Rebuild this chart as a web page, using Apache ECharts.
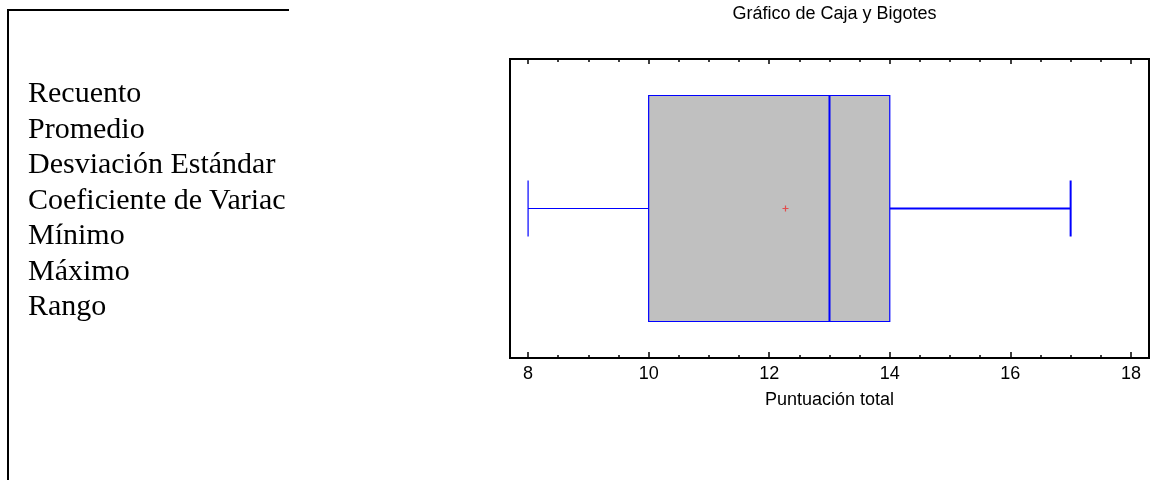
<!DOCTYPE html>
<html>
<head>
<meta charset="utf-8">
<script src="https://cdn.jsdelivr.net/npm/echarts@6/dist/echarts.min.js"></script>
<style>
  html, body { margin: 0; padding: 0; background: #fff; }
  #chart { position: absolute; left: 0; top: 0; width: 1164px; height: 480px; }
  .stat-frame {
    position: absolute; left: 7px; top: 9px; width: 280px; height: 480px;
    border-top: 2px solid #000; border-left: 2px solid #000;
  }
  .stat-labels {
    position: absolute; left: 28px; top: 74px; width: 258px;
    overflow: hidden; white-space: nowrap;
    font-family: "Liberation Serif", "Times New Roman", serif;
    font-size: 30px; line-height: 35.5px; color: #000;
  }
</style>
</head>
<body>
<div id="chart"></div>
<div class="stat-frame"></div>
<div class="stat-labels" id="labels"></div>
<script>
// resumen estadístico (sólo etiquetas visibles)
const statNames = ['Recuento', 'Promedio', 'Desviación Estándar', 'Coeficiente de Variación', 'Mínimo', 'Máximo', 'Rango']

// caja y bigotes: mínimo, Q1, mediana, Q3, máximo
const boxValues = [8, 10, 13, 14, 17]
const meanValue = 12.27

// marcas del eje
const majorTicks = [8, 10, 12, 14, 16, 18]
const minorTicks = [8.5, 9, 9.5, 10.5, 11, 11.5, 12.5, 13, 13.5, 14.5, 15, 15.5, 16.5, 17, 17.5]
const axisMin = 7.7
const axisMax = 18.3

document.getElementById('labels').innerHTML = statNames.map(s => `<div>${s}</div>`).join('')

const chart = echarts.init(document.getElementById('chart'))

const baseAxis = (position, ticks, len, showLabel) => ({
  type: 'value',
  position,
  min: axisMin,
  max: axisMax,
  axisLine: { show: false },
  splitLine: { show: false },
  axisTick: {
    show: true,
    inside: true,
    length: len,
    customValues: ticks,
    lineStyle: { color: '#000', width: 1.5 }
  },
  axisLabel: showLabel
    ? { show: true, customValues: ticks, color: '#000', fontSize: 18, margin: 7, fontFamily: 'Liberation Sans, Arial' }
    : { show: false }
})

const bottomAxis = baseAxis('bottom', majorTicks, 6, true)
bottomAxis.name = 'Puntuación total'
bottomAxis.nameLocation = 'middle'
bottomAxis.nameGap = 33
bottomAxis.nameTextStyle = { color: '#000', fontSize: 18, fontFamily: 'Liberation Sans, Arial' }

const option = {
  animation: false,
  title: {
    text: 'Gráfico de Caja y Bigotes',
    left: 829.5,
    textAlign: 'center',
    top: 0,
    textStyle: { color: '#000', fontSize: 18, fontWeight: 'normal', fontFamily: 'Liberation Sans, Arial' }
  },
  grid: {
    left: 510, top: 59, width: 639, height: 299,
    show: true, borderColor: '#000', borderWidth: 2,
    outerBoundsMode: 'none'
  },
  xAxis: [
    bottomAxis,
    baseAxis('bottom', minorTicks, 3, false),
    baseAxis('top', majorTicks, 5, false),
    baseAxis('top', minorTicks, 3, false)
  ],
  yAxis: { type: 'value', min: 0, max: 1, show: false },
  series: [
    {
      type: 'custom',
      xAxisIndex: 0,
      data: [boxValues],
      renderItem: (params, api) => {
        const [mn, q1, med, q3, mx] = [0, 1, 2, 3, 4].map(i => api.value(i))
        const c = api.coord([q1, 0.5])
        const cy = c[1]
        const px = v => api.coord([v, 0.5])[0]
        const half = 113
        const cap = 28
        const blue = '#0000ff'
        return {
          type: 'group',
          children: [
            { type: 'line', shape: { x1: px(mn), y1: cy, x2: px(q1), y2: cy }, style: { stroke: blue, lineWidth: 1.2 } },
            { type: 'line', shape: { x1: px(mn), y1: cy - cap, x2: px(mn), y2: cy + cap }, style: { stroke: blue, lineWidth: 1.2 } },
            { type: 'line', shape: { x1: px(q3), y1: cy, x2: px(mx), y2: cy }, style: { stroke: blue, lineWidth: 2 } },
            { type: 'line', shape: { x1: px(mx), y1: cy - cap, x2: px(mx), y2: cy + cap }, style: { stroke: blue, lineWidth: 2 } },
            { type: 'rect', shape: { x: px(q1), y: cy - half, width: px(q3) - px(q1), height: half * 2 }, style: { fill: '#c0c0c0', stroke: blue, lineWidth: 1.2 } },
            { type: 'line', shape: { x1: px(med), y1: cy - half, x2: px(med), y2: cy + half }, style: { stroke: blue, lineWidth: 2 } }
          ]
        }
      }
    },
    {
      type: 'scatter',
      xAxisIndex: 0,
      data: [[meanValue, 0.5]],
      symbol: 'path://M2,0 L3,0 L3,2 L5,2 L5,3 L3,3 L3,5 L2,5 L2,3 L0,3 L0,2 L2,2 Z',
      symbolSize: 6,
      itemStyle: { color: '#e83030' },
      z: 5
    }
  ]
}

chart.setOption(option)
</script>
</body>
</html>
